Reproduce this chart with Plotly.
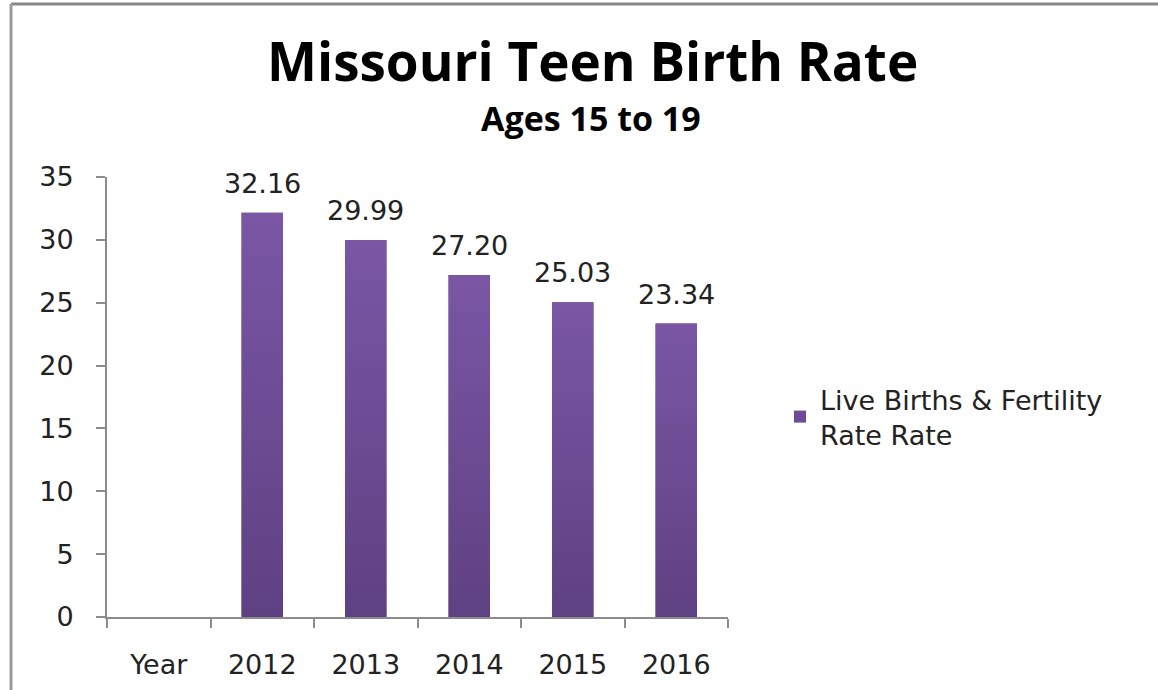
import plotly.graph_objects as go

categories = ["Year", "2012", "2013", "2014", "2015", "2016"]
rates = [None, 32.16, 29.99, 27.20, 25.03, 23.34]
value_labels = ["", "32.16", "29.99", "27.20", "25.03", "23.34"]
series_name = "Live Births & Fertility<br>Rate Rate"
title_text = "Missouri Teen Birth Rate"
subtitle_text = "Ages 15 to 19"
y_ticks = [0, 5, 10, 15, 20, 25, 30, 35]

W, H = 1158, 690
L, R, T, B = 107, 430, 177, 73
pw, ph = W - L - R, H - T - B

def px_x(x):
    return (x - L) / pw

def px_y(y):
    return (H - B - y) / ph

FONT = "DejaVu Sans"
TXT = "#222222"
AX = "#8c8c8c"
BAR_W = 0.4
C_TOP, C_BOT, C_MID = "#7A56A5", "#5E4182", "#6C4C94"

positions = list(range(len(categories)))

fig = go.Figure()
fig.add_trace(go.Bar(
    x=positions, y=rates, name=series_name,
    marker=dict(color=C_MID, line=dict(width=0)),
    width=BAR_W, showlegend=True,
))
# vertical gradient overlay on each bar (geometry derived from the data)
for i, v in zip(positions, rates):
    if v is None:
        continue
    h = BAR_W / 2
    fig.add_trace(go.Scatter(
        x=[i - h, i + h, i + h, i - h, i - h], y=[0, 0, v, v, 0],
        mode="lines", line=dict(width=0, color=C_MID), fill="toself",
        fillgradient=dict(type="vertical", start=0, stop=v,
                          colorscale=[[0, C_BOT], [1, C_TOP]]),
        showlegend=False, hoverinfo="skip",
    ))

annotations = []
for i, v, lab in zip(positions, rates, value_labels):
    if v is None:
        continue
    annotations.append(dict(x=i, y=v, xref="x", yref="y", text=lab, showarrow=False,
                            yanchor="bottom", yshift=12,
                            font=dict(family=FONT, size=27, color=TXT)))

annotations.append(dict(x=px_x(592), y=px_y(60), xref="paper", yref="paper", text="<b>" + title_text + "</b>",
                        showarrow=False, xanchor="center", yanchor="middle", borderpad=0,
                        font=dict(family="Open Sans", size=53, color="#000000")))
annotations.append(dict(x=px_x(591), y=px_y(118), xref="paper", yref="paper", text="<b>" + subtitle_text + "</b>",
                        showarrow=False, xanchor="center", yanchor="middle", borderpad=0,
                        font=dict(family="Open Sans", size=34, color="#000000")))

shapes = [
    dict(type="line", xref="paper", yref="paper", x0=px_x(11), x1=px_x(W + 5), y0=px_y(4), y1=px_y(4),
         line=dict(color="#888888", width=3)),
    dict(type="line", xref="paper", yref="paper", x0=px_x(11), x1=px_x(11), y0=px_y(4), y1=px_y(H + 5),
         line=dict(color="#999999", width=3)),
]

fig.update_layout(
    width=W, height=H,
    margin=dict(l=L, r=R, t=T, b=B, pad=0),
    paper_bgcolor="white", plot_bgcolor="white",
    annotations=annotations, shapes=shapes,
    showlegend=True,
    legend=dict(x=px_x(780), y=px_y(417), xanchor="left", yanchor="middle",
                font=dict(family=FONT, size=27, color=TXT), bgcolor="rgba(0,0,0,0)",
                itemsizing="constant", tracegroupgap=0),
)
boundaries = [p - 0.5 for p in positions] + [positions[-1] + 0.5]
fig.update_xaxes(
    range=[-0.5, len(categories) - 0.5], tickvals=positions, ticktext=categories,
    automargin=False, tickangle=0,
    showline=True, linecolor=AX, linewidth=2, ticks="outside",
    ticklen=9, tickcolor="rgba(0,0,0,0)", tickwidth=2, showgrid=False, zeroline=False,
    minor=dict(tickvals=boundaries, ticks="outside", ticklen=9, tickcolor=AX, tickwidth=2, showgrid=False),
    tickfont=dict(family=FONT, size=27, color=TXT), ticklabelstandoff=14,
)
fig.update_yaxes(
    range=[0, 35], tickvals=y_ticks, automargin=False, showline=True, linecolor=AX, linewidth=2,
    ticks="outside", ticklen=9, tickcolor=AX, tickwidth=2, showgrid=False, zeroline=False,
    tickfont=dict(family=FONT, size=27, color=TXT), ticklabelstandoff=17,
)

fig.write_html("out.html", config={"displayModeBar": False},
               post_script="document.body.style.margin='0';document.body.style.overflow='hidden';")
